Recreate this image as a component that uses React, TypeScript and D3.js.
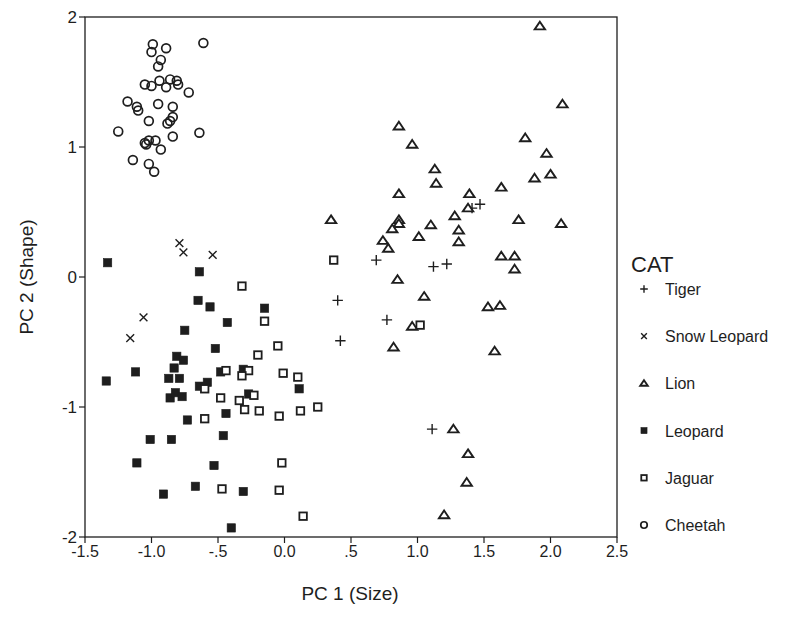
import React from "react";
import * as d3 from "d3";

// PC scores, [pc1, pc2]
const tiger = [
  [0.69, 0.13], [0.4, -0.18], [0.77, -0.33], [0.42, -0.49], [1.12, 0.08],
  [1.22, 0.1], [1.47, 0.56], [1.41, 0.53], [1.11, -1.17],
];
const snowLeopard = [
  [-0.79, 0.26], [-0.76, 0.19], [-0.54, 0.17], [-1.06, -0.31], [-1.16, -0.47],
];
const lion = [
  [0.86, 1.16], [0.96, 1.02], [1.13, 0.83], [1.14, 0.72], [0.86, 0.64],
  [1.39, 0.64], [1.38, 0.53], [0.35, 0.44], [1.28, 0.47], [0.86, 0.44],
  [0.86, 0.41], [0.81, 0.37], [1.1, 0.4], [1.31, 0.36], [1.01, 0.31],
  [1.31, 0.27], [0.74, 0.28], [0.78, 0.22], [0.85, -0.02], [1.05, -0.15],
  [0.96, -0.38], [0.82, -0.54], [1.92, 1.93], [2.09, 1.33], [1.81, 1.07],
  [1.97, 0.95], [1.88, 0.76], [2.0, 0.79], [1.63, 0.69], [1.76, 0.44],
  [2.08, 0.41], [1.63, 0.16], [1.73, 0.16], [1.73, 0.06], [1.53, -0.23],
  [1.62, -0.22], [1.58, -0.57], [1.27, -1.17], [1.38, -1.36], [1.37, -1.58],
  [1.2, -1.83],
];
const leopard = [
  [-1.33, 0.11], [-0.64, 0.04], [-0.65, -0.18], [-0.56, -0.23], [-0.43, -0.35],
  [-0.15, -0.24], [-0.75, -0.41], [-0.52, -0.55], [-0.81, -0.61], [-0.76, -0.64],
  [-0.83, -0.7], [-1.12, -0.73], [-0.31, -0.71], [-0.48, -0.73], [-1.34, -0.8],
  [-0.87, -0.78], [-0.79, -0.78], [-0.58, -0.81], [-0.64, -0.84], [0.11, -0.86],
  [-0.86, -0.93], [-0.82, -0.89], [-0.77, -0.92], [-0.73, -1.1], [-0.44, -1.05],
  [-0.27, -0.9], [-1.01, -1.25], [-0.85, -1.25], [-0.46, -1.22], [-1.11, -1.43],
  [-0.53, -1.45], [-0.67, -1.61], [-0.91, -1.67], [-0.31, -1.65], [-0.4, -1.93],
];
const jaguar = [
  [-0.32, -0.07], [0.37, 0.13], [-0.15, -0.34], [-0.2, -0.6], [-0.05, -0.53],
  [-0.44, -0.72], [-0.27, -0.72], [-0.32, -0.76], [-0.01, -0.74], [0.1, -0.77],
  [-0.6, -0.86], [-0.48, -0.93], [-0.34, -0.95], [-0.23, -0.91], [-0.3, -1.02],
  [-0.19, -1.03], [-0.04, -1.07], [-0.6, -1.09], [0.12, -1.03], [0.25, -1.0],
  [-0.02, -1.43], [-0.47, -1.63], [-0.04, -1.64], [0.14, -1.84], [1.02, -0.37],
];
const cheetah = [
  [-0.99, 1.79], [-1.0, 1.73], [-0.89, 1.76], [-0.61, 1.8], [-0.93, 1.67],
  [-0.95, 1.62], [-1.05, 1.48], [-1.0, 1.47], [-0.94, 1.51], [-0.89, 1.46],
  [-0.86, 1.52], [-0.81, 1.51], [-0.8, 1.48], [-0.72, 1.42], [-1.18, 1.35],
  [-1.11, 1.31], [-1.1, 1.28], [-0.95, 1.33], [-0.84, 1.31], [-0.84, 1.23],
  [-0.86, 1.2], [-0.88, 1.18], [-1.02, 1.2], [-1.25, 1.12], [-0.64, 1.11],
  [-0.84, 1.08], [-1.05, 1.03], [-1.02, 1.05], [-0.97, 1.05], [-1.04, 1.02],
  [-0.93, 0.98], [-1.14, 0.9], [-1.02, 0.87], [-0.98, 0.81],
];

const categories = ["Tiger", "Snow Leopard", "Lion", "Leopard", "Jaguar", "Cheetah"];
const seriesData = [tiger, snowLeopard, lion, leopard, jaguar, cheetah];
const symbols = ["plus", "cross", "triangle", "filled", "square", "circle"];

const xTicks = [-1.5, -1, -0.5, 0, 0.5, 1, 1.5, 2, 2.5];
const xTickLabels = ["-1.5", "-1.0", "-.5", "0.0", ".5", "1.0", "1.5", "2.0", "2.5"];
const yTicks = [2, 1, 0, -1, -2];
const yTickLabels = ["2", "1", "0", "-1", "-2"];

const ink = "#1e1e1e";
const font = "'Liberation Sans', Arial, sans-serif";

function Marker({ kind, x, y, s }: { kind: string; x: number; y: number; s: number }) {
  const sw = 1.5;
  if (kind === "plus")
    return (
      <path d={`M${x - s},${y}H${x + s}M${x},${y - s}V${y + s}`} stroke={ink} strokeWidth={1.4} fill="none" />
    );
  if (kind === "cross") {
    const c = s * 0.75;
    return (
      <path d={`M${x - c},${y - c}L${x + c},${y + c}M${x - c},${y + c}L${x + c},${y - c}`} stroke={ink} strokeWidth={1.4} fill="none" />
    );
  }
  if (kind === "triangle") {
    const h = s * 0.85;
    return (
      <path d={`M${x},${y - h}L${x + s},${y + h * 0.75}L${x - s},${y + h * 0.75}Z`} stroke={ink} strokeWidth={1.9} fill="white" strokeLinejoin="miter" />
    );
  }
  if (kind === "filled") {
    const a = s * 0.8;
    return <rect x={x - a} y={y - a} width={2 * a} height={2 * a} fill={ink} stroke={ink} strokeWidth={0.6} />;
  }
  if (kind === "square") {
    const a = s * 0.72;
    return <rect x={x - a} y={y - a} width={2 * a} height={2 * a} fill="white" stroke={ink} strokeWidth={sw + 0.3} />;
  }
  return <circle cx={x} cy={y} r={s * 0.85} fill="none" stroke={ink} strokeWidth={sw + 0.2} />;
}

export default function App() {
  const width = 790;
  const height = 633;
  const left = 85;
  const right = 617;
  const top = 17;
  const bottom = 537;

  const x = d3.scaleLinear().domain([-1.5, 2.5]).range([left, right]);
  const y = d3.scaleLinear().domain([-2, 2]).range([bottom, top]);

  const legendY = d3.scalePoint<string>().domain(categories).range([289, 525]);

  return (
    <svg width={width} height={height} style={{ position: "absolute", left: 0, top: 0, background: "white" }}>
      <rect x={left} y={top} width={right - left} height={bottom - top} fill="none" stroke={ink} strokeWidth={1.3} />

      {xTicks.map((t, i) => (
        <g key={"xt" + i}>
          <line x1={x(t)} x2={x(t)} y1={bottom} y2={bottom + 6} stroke={ink} strokeWidth={1.2} />
          <text x={x(t)} y={bottom + 20} textAnchor="middle" fontSize={16} fontFamily={font} fill={ink}>
            {xTickLabels[i]}
          </text>
        </g>
      ))}
      {yTicks.map((t, i) => (
        <g key={"yt" + i}>
          <line x1={left - 6} x2={left} y1={y(t)} y2={y(t)} stroke={ink} strokeWidth={1.2} />
          <text x={left - 8} y={y(t) + 6} textAnchor="end" fontSize={17} fontFamily={font} fill={ink}>
            {yTickLabels[i]}
          </text>
        </g>
      ))}

      {seriesData.map((pts, si) =>
        pts.map((p, i) => <Marker key={si + "-" + i} kind={symbols[si]} x={x(p[0])} y={y(p[1])} s={5.2} />)
      )}

      <text x={350} y={600} textAnchor="middle" fontSize={19} fontFamily={font} fill={ink}>
        PC 1 (Size)
      </text>
      <text transform={`translate(33,${(top + bottom) / 2}) rotate(-90)`} textAnchor="middle" fontSize={19} fontFamily={font} fill={ink}>
        PC 2 (Shape)
      </text>

      <text x={631} y={272} fontSize={22} fontFamily={font} fill={ink}>
        CAT
      </text>
      {categories.map((c, i) => (
        <g key={"lg" + i}>
          <Marker kind={symbols[i]} x={644} y={legendY(c)!} s={3.8} />
          <text x={665} y={legendY(c)! + 6} fontSize={16} fontFamily={font} fill={ink}>
            {c}
          </text>
        </g>
      ))}
    </svg>
  );
}
